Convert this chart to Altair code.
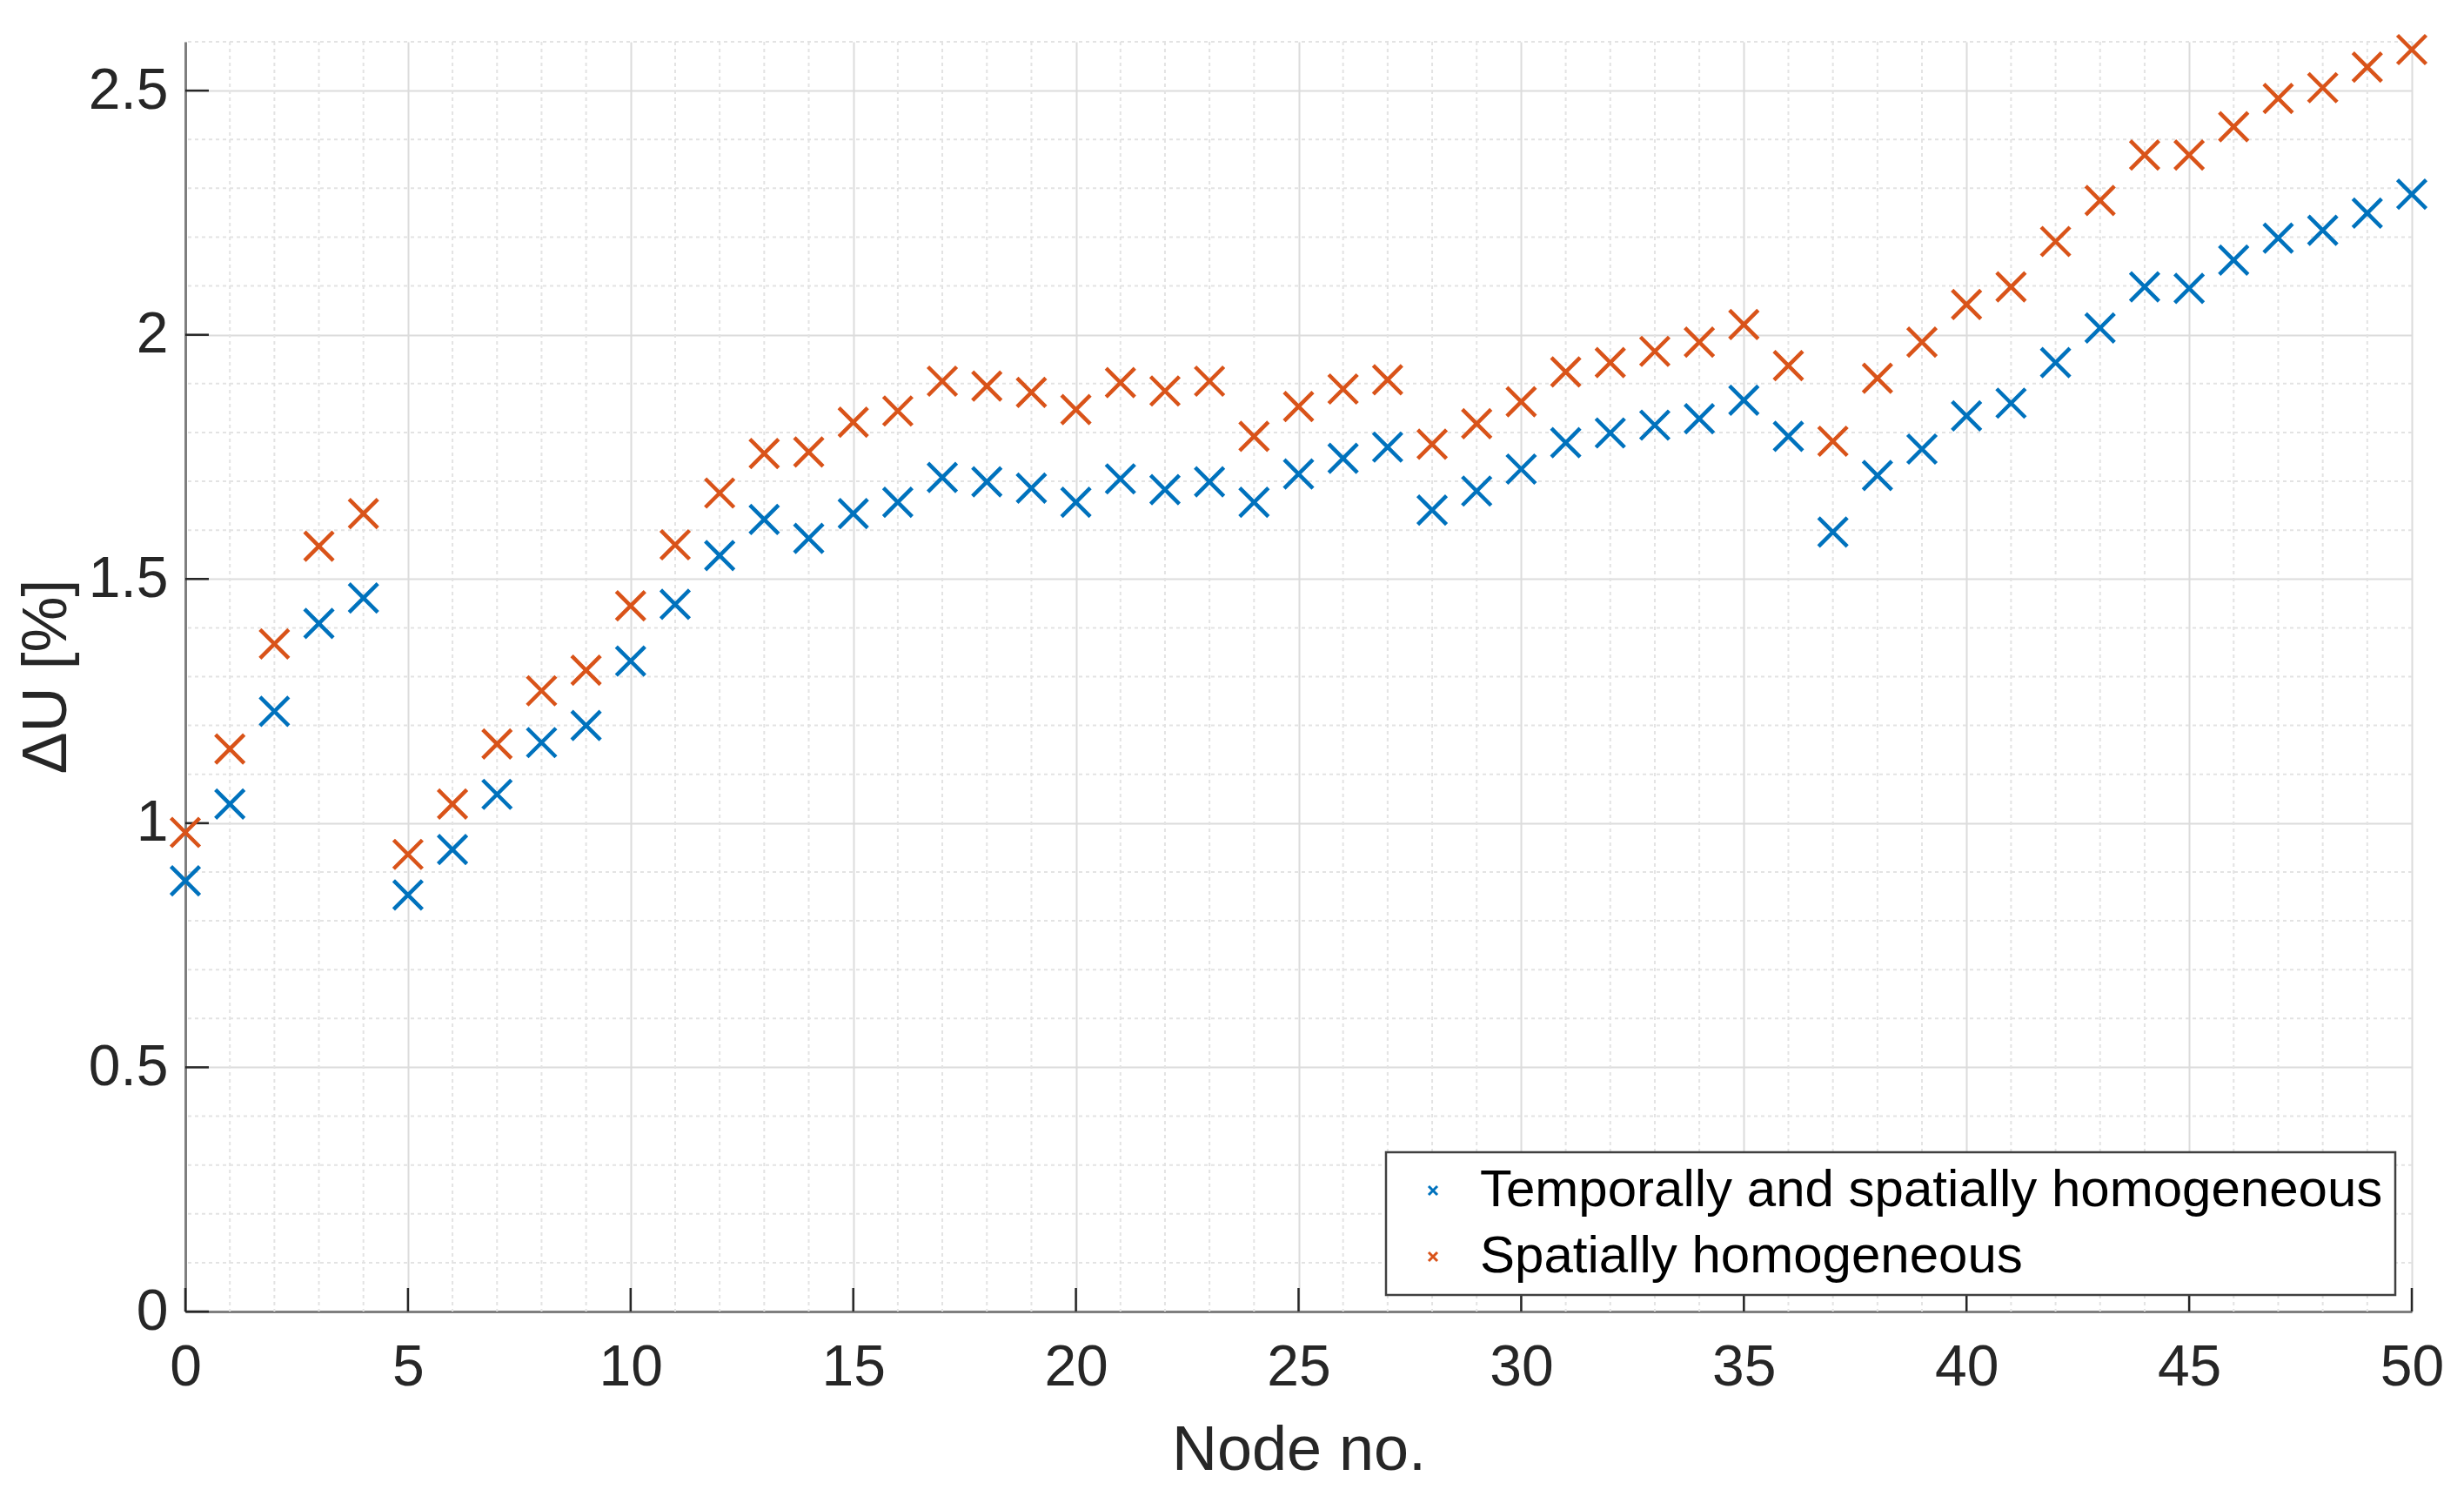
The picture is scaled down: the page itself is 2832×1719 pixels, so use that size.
import altair as alt
import pandas as pd

# ---- data ----
nodes = list(range(51))
temporally_spatially = [
    0.882, 1.039, 1.229, 1.409, 1.461, 0.853, 0.946, 1.059, 1.165, 1.200,
    1.332, 1.448, 1.548, 1.622, 1.583, 1.634, 1.657, 1.708, 1.699, 1.686,
    1.657, 1.705, 1.683, 1.699, 1.657, 1.715, 1.747, 1.770, 1.641, 1.680,
    1.725, 1.779, 1.799, 1.815, 1.828, 1.866, 1.792, 1.596, 1.712, 1.766,
    1.834, 1.860, 1.943, 2.014, 2.098, 2.095, 2.153, 2.198, 2.214, 2.249,
    2.288,
]
spatially = [
    0.981, 1.152, 1.367, 1.567, 1.634, 0.936, 1.039, 1.162, 1.271, 1.313,
    1.445, 1.570, 1.676, 1.757, 1.760, 1.821, 1.844, 1.905, 1.895, 1.882,
    1.847, 1.902, 1.885, 1.905, 1.792, 1.853, 1.889, 1.908, 1.776, 1.818,
    1.863, 1.924, 1.943, 1.966, 1.985, 2.021, 1.937, 1.782, 1.911, 1.985,
    2.062, 2.098, 2.191, 2.275, 2.368, 2.368, 2.426, 2.484, 2.506, 2.548,
    2.584,
]
series_names = ["Temporally and spatially homogeneous", "Spatially homogeneous"]
series_colors = ["#0072BD", "#D95319"]

x_major = [0, 5, 10, 15, 20, 25, 30, 35, 40, 45, 50]
y_major = [0, 0.5, 1, 1.5, 2, 2.5]
x_minor = [i for i in range(51) if i % 5 != 0]
y_minor = [round(i * 0.1, 1) for i in range(1, 27) if i % 5 != 0]

# ---- layout ----
W, H = 2559, 1459
FONT = "Liberation Sans"
X_DOMAIN = [0, 50]
Y_DOMAIN = [0, 2.6]
CROSS = "M-1,-1L1,1M-1,1L1,-1"

df = pd.DataFrame({
    "node": nodes + nodes,
    "value": temporally_spatially + spatially,
    "series": [series_names[0]] * len(nodes) + [series_names[1]] * len(nodes),
})

xs = alt.Scale(domain=X_DOMAIN, nice=False, zero=False)
ys = alt.Scale(domain=Y_DOMAIN, nice=False, zero=False)

x_axis = alt.Axis(
    values=x_major, format="d", grid=True, gridColor="#dcdcdc", gridWidth=2,
    ticks=False, domain=True, domainColor="#7f7f7f", domainWidth=3,
    labelFont=FONT, labelFontSize=66, labelColor="#262626", labelPadding=32,
    labelFlush=False, labelOverlap=False,
    title="Node no.", titleFont=FONT, titleFontSize=72, titleFontWeight="normal",
    titleColor="#262626", titleX=W / 2, titleY=181, titleAlign="center",
    titleBaseline="alphabetic",
)
y_axis = alt.Axis(
    values=y_major, format="~g", grid=True, gridColor="#dcdcdc", gridWidth=2,
    ticks=False, domain=True, domainColor="#7f7f7f", domainWidth=3,
    labelFont=FONT, labelFontSize=66, labelColor="#262626", labelPadding=20,
    labelFlush=False, labelOverlap=False,
    title="ΔU [%]", titleFont=FONT, titleFontSize=72, titleFontWeight="normal",
    titleColor="#262626", titleAngle=270, titleX=-138, titleY=729,
    titleAlign="center", titleBaseline="alphabetic",
)

minor_x = alt.Chart(pd.DataFrame({"v": x_minor})).mark_rule(
    color="#e3e3e3", strokeWidth=2, strokeDash=[4, 4]
).encode(x=alt.X("v:Q", scale=xs, axis=x_axis))

minor_y = alt.Chart(pd.DataFrame({"v": y_minor})).mark_rule(
    color="#e3e3e3", strokeWidth=2, strokeDash=[4, 4]
).encode(y=alt.Y("v:Q", scale=ys, axis=y_axis))

x_ticks = alt.Chart(pd.DataFrame({"v": x_major})).mark_rule(
    color="#262626", strokeWidth=2.5
).encode(x=alt.X("v:Q", scale=xs, axis=x_axis), y=alt.value(H), y2=alt.value(H - 27))

y_ticks = alt.Chart(pd.DataFrame({"v": y_major})).mark_rule(
    color="#262626", strokeWidth=2.5
).encode(y=alt.Y("v:Q", scale=ys, axis=y_axis), x=alt.value(0), x2=alt.value(27))

points = alt.Chart(df).mark_point(
    shape=CROSS, filled=False, size=1089, strokeWidth=4.5, opacity=1
).encode(
    x=alt.X("node:Q", scale=xs, axis=x_axis),
    y=alt.Y("value:Q", scale=ys, axis=y_axis),
    color=alt.Color(
        "series:N",
        scale=alt.Scale(domain=series_names, range=series_colors),
        sort=series_names,
        legend=alt.Legend(
            title=None, orient="none", legendX=1380, legendY=1276,
            symbolType=CROSS, symbolSize=100, symbolStrokeWidth=3,
            labelFont=FONT, labelFontSize=60, labelColor="#000000", labelLimit=3000,
            padding=14, symbolOffset=10, labelOffset=24, rowPadding=16,
            strokeColor="#404040", fillColor="#ffffff",
        ),
    ),
)

chart = alt.layer(minor_x, minor_y, x_ticks, y_ticks, points).properties(
    width=W, height=H,
    autosize=alt.AutoSizeParams(type="none"),
    padding={"left": 205, "top": 40, "right": 52, "bottom": 210},
    background="white",
).configure_view(stroke=None).configure_legend(strokeWidth=2.5, cornerRadius=0)

chart.save("out.html", embed_options={"renderer": "svg", "actions": False})
